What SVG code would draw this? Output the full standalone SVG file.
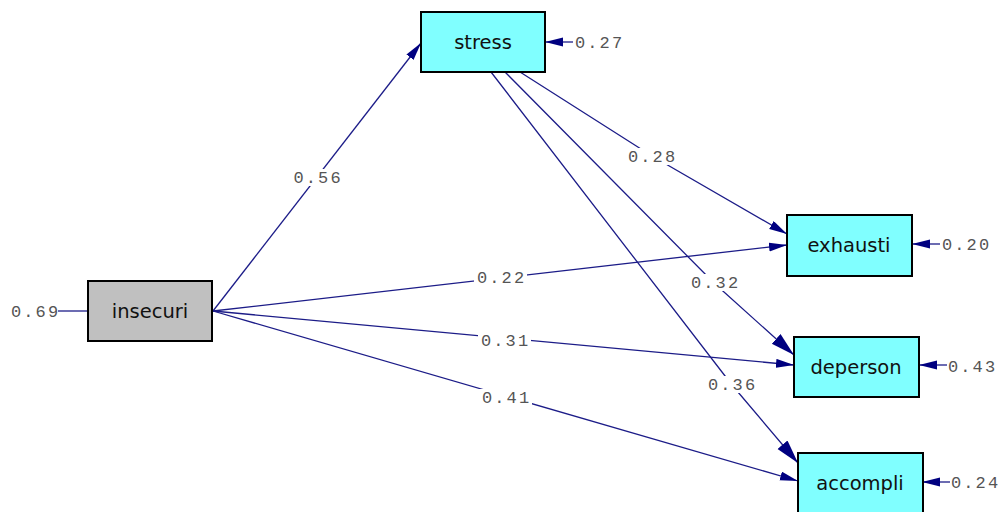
<svg xmlns="http://www.w3.org/2000/svg" width="1000" height="512" viewBox="0 0 1000 512">
  <style>
    .box { stroke: #000; stroke-width: 2; }
    .obs { fill: #80ffff; }
    .lat { fill: #c0c0c0; }
    .name { font-family: "DejaVu Sans", "Liberation Sans", sans-serif; font-size: 19.5px; fill: #111; text-anchor: middle; }
    .num { font-family: "Liberation Mono", "Courier New", monospace; font-size: 17px; fill: #555; }
    .bg { fill: #fff; }
    .edge { fill: none; stroke: #1c1c88; stroke-width: 1.3; }
  </style>
  <defs>
    <marker id="arr" markerUnits="userSpaceOnUse" markerWidth="20" markerHeight="10" refX="18" refY="4.5" orient="auto">
      <path d="M0,0 L18,4.5 L0,9 z" fill="#000080"/>
    </marker>
    <marker id="arrBig" markerUnits="userSpaceOnUse" markerWidth="26" markerHeight="14" refX="24" refY="6.5" orient="auto">
      <path d="M0,0 L24,6.5 L0,13 z" fill="#000080"/>
    </marker>
  </defs>
  <rect width="1000" height="512" fill="#fff"/>

  <g id="connectors">
    <path class="edge" d="M213,311 L421,43" marker-end="url(#arr)"/>
    <path class="edge" d="M213,311 L787,245" marker-end="url(#arr)"/>
    <path class="edge" d="M213,311 L794,365" marker-end="url(#arr)"/>
    <path class="edge" d="M213,311 L798,481" marker-end="url(#arr)"/>
    <path class="edge" d="M520,72 L652,156 L787,234" marker-end="url(#arr)"/>
    <path class="edge" d="M505,72 L714,283 L794,355" marker-end="url(#arrBig)"/>
    <path class="edge" d="M491,72 L732,385 L798,463" marker-end="url(#arrBig)"/>
    <path class="edge" d="M573,42 L545,42" marker-end="url(#arr)"/>
    <path class="edge" d="M58,311 L88,311"/>
    <path class="edge" d="M940,244 L912,244" marker-end="url(#arr)"/>
    <path class="edge" d="M947,365 L919,365" marker-end="url(#arr)"/>
    <path class="edge" d="M950,482 L922,482" marker-end="url(#arr)"/>

    <rect class="bg" x="290" y="169" width="53" height="17"/>
    <rect class="bg" x="625" y="148" width="53" height="17"/>
    <rect class="bg" x="688" y="274" width="53" height="17"/>
    <rect class="bg" x="705" y="376" width="53" height="17"/>
    <rect class="bg" x="474" y="269" width="53" height="17"/>
    <rect class="bg" x="478" y="332" width="53" height="17"/>
    <rect class="bg" x="479" y="389" width="53" height="17"/>

    <text class="num" x="293.5 305.8 318.1 330.4" y="183">0.56</text>
    <text class="num" x="628 640.3 652.6 664.9" y="162">0.28</text>
    <text class="num" x="691 703.3 715.6 727.9" y="288">0.32</text>
    <text class="num" x="708 720.3 732.6 744.9" y="390">0.36</text>
    <text class="num" x="477 489.3 501.6 513.9" y="283">0.22</text>
    <text class="num" x="481 493.3 505.6 517.9" y="346">0.31</text>
    <text class="num" x="482 494.3 506.6 518.9" y="403">0.41</text>
    <text class="num" x="575 587.3 599.6 611.9" y="48">0.27</text>
    <text class="num" x="11 23.3 35.6 47.9" y="317">0.69</text>
    <text class="num" x="942 954.3 966.6 978.9" y="250">0.20</text>
    <text class="num" x="948 960.3 972.6 984.9" y="372">0.43</text>
    <text class="num" x="951 963.3 975.6 987.9" y="488">0.24</text>
  </g>

  <g id="stress">
    <rect class="box obs" x="421" y="12" width="124" height="60"/>
    <text class="name" x="483" y="49">stress</text>
  </g>
  <g id="insecuri">
    <rect class="box lat" x="88" y="281" width="124" height="60"/>
    <text class="name" x="150" y="318">insecuri</text>
  </g>
  <g id="exhausti">
    <rect class="box obs" x="787" y="215" width="125" height="61"/>
    <text class="name" x="849" y="252">exhausti</text>
  </g>
  <g id="deperson">
    <rect class="box obs" x="794" y="337" width="125" height="60"/>
    <text class="name" x="856" y="374">deperson</text>
  </g>
  <g id="accompli">
    <rect class="box obs" x="798" y="453" width="125" height="60"/>
    <text class="name" x="860" y="490">accompli</text>
  </g>
</svg>
